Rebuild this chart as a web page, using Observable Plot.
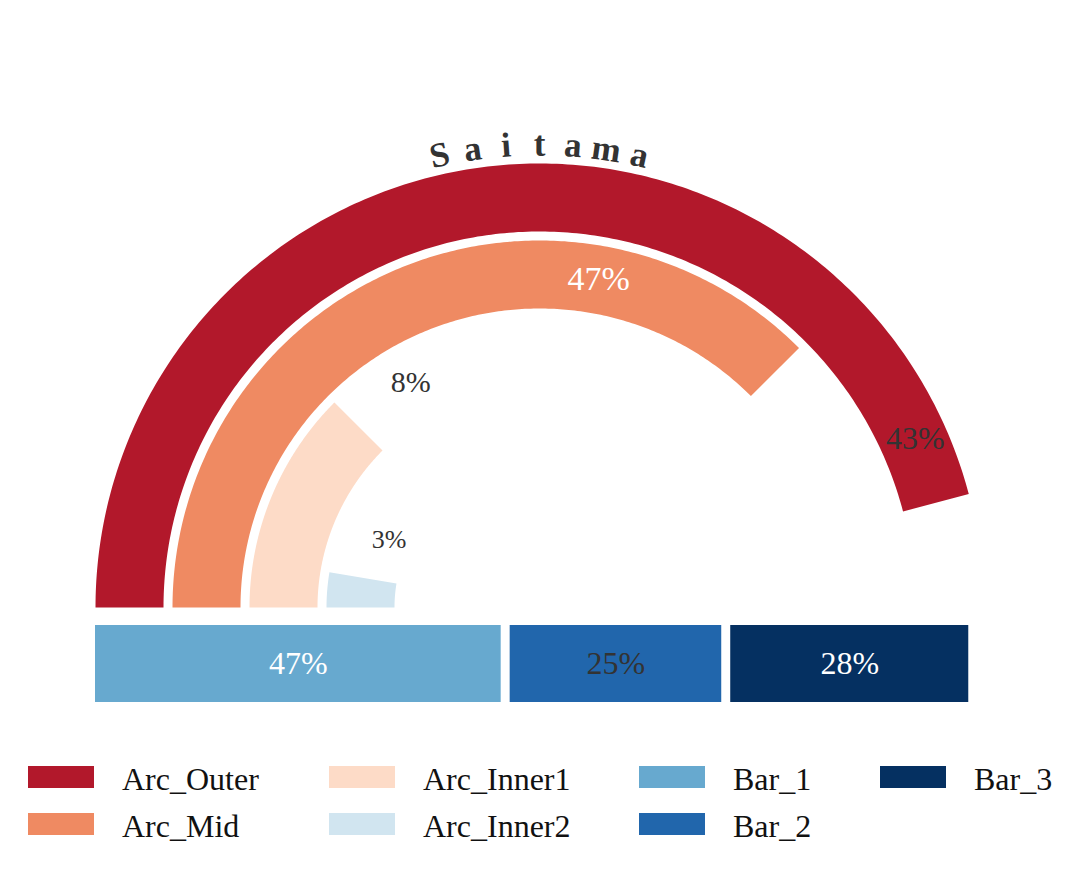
<!DOCTYPE html>
<html><head><meta charset="utf-8">
<script src="https://cdn.jsdelivr.net/npm/d3@7"></script>
<script src="https://cdn.jsdelivr.net/npm/@observablehq/plot@0.6"></script>
<style>
body{margin:0;background:#fff;}
#wrap{position:relative;width:1080px;height:871px;font-family:"Liberation Serif","Times New Roman",serif;}
#legend{position:absolute;left:0;top:740px;width:1080px;height:131px;}
.sw{position:absolute;width:66px;height:22px;}
.lb{position:absolute;font-size:32px;color:#111;line-height:32px;white-space:nowrap;}
</style></head><body>
<div id="wrap"><div id="chart"></div><div id="legend"></div></div>
<script>
// ---------------- data ----------------
const arcNames   = ["Arc_Outer", "Arc_Mid", "Arc_Inner1", "Arc_Inner2"];
const arcSpanDeg = [165.2, 135, 45, 9.5];        // sweep from the left horizontal, clockwise
const arcLabels  = ["43%", "47%", "8%", "3%"];
const barNames   = ["Bar_1", "Bar_2", "Bar_3"];
const barValues  = [47, 25, 28];
const barLabels  = ["47%", "25%", "28%"];
const titleText  = "Saitama";
const arcColors  = ["#b2182b", "#ef8a62", "#fddbc7", "#d1e5f0"];
const barColors  = ["#67a9cf", "#2166ac", "#053061"];

// ---------------- layout ----------------
const W = 1080, H = 740, unit = 444, cx = 539, cy = 607;
const ringW = 68 / unit, ringGap = 9 / unit;
const arcLabelAngle  = [24.2, 79.8, 119.8, 155.7];
const arcLabelRadius = [412 / unit, 334 / unit, 259 / unit, 165 / unit];
const arcLabelSize   = [32, 34, 30, 26];
const arcLabelFill   = ["#333", "white", "#333", "#333"];
const barLabelFill   = ["white", "#333", "white"];
const barTop = -18 / unit, barBottom = -95 / unit, barGapPx = 9;
const titleRadius = 452 / unit, titleStepDeg = 4.15;

const rad = d => d * Math.PI / 180;

// arc polygons
const arcs = arcNames.map((name, i) => {
  const r1 = 1 - i * (ringW + ringGap), r0 = r1 - ringW;
  return {name, r0, r1, start: 180, end: 180 - arcSpanDeg[i]};
});
const arcPts = arcs.flatMap(a => {
  const n = 240;
  const angs = d3.range(n + 1).map(k => a.start + (a.end - a.start) * k / n);
  const outer = angs.map(t => ({name: a.name, x: a.r1 * Math.cos(rad(t)), y: a.r1 * Math.sin(rad(t))}));
  const inner = angs.slice().reverse().map(t => ({name: a.name, x: a.r0 * Math.cos(rad(t)), y: a.r0 * Math.sin(rad(t))}));
  return outer.concat(inner);
});
const arcText = arcs.map((a, i) => ({
  label: arcLabels[i],
  x: arcLabelRadius[i] * Math.cos(rad(arcLabelAngle[i])),
  y: arcLabelRadius[i] * Math.sin(rad(arcLabelAngle[i])),
  size: arcLabelSize[i], fill: arcLabelFill[i]
}));

// bars
const half = barGapPx / 2 / unit;
const barLeft = -1 - half, barRight = Math.cos(rad(arcs[0].end)) + half;
const total = d3.sum(barValues);
const cum = [0, ...d3.cumsum(barValues)];
const bars = barNames.map((name, i) => ({
  name, label: barLabels[i], fill: barLabelFill[i],
  x1: barLeft + (barRight - barLeft) * cum[i] / total,
  x2: barLeft + (barRight - barLeft) * cum[i + 1] / total
}));

// title letters along an arc
const letters = Array.from(titleText).map((ch, k, arr) => {
  const t = 90 + ((arr.length - 1) / 2 - k) * titleStepDeg;
  return {ch, x: titleRadius * Math.cos(rad(t)), y: titleRadius * Math.sin(rad(t)), rot: 90 - t};
});

const allNames = arcNames.concat(barNames);
const allColors = arcColors.concat(barColors);

const chart = Plot.plot({
  width: W, height: H,
  marginLeft: 0, marginRight: 0, marginTop: 0, marginBottom: 0,
  x: {domain: [-cx / unit, (W - cx) / unit], axis: null},
  y: {domain: [-(H - cy) / unit, cy / unit], axis: null},
  color: {domain: allNames, range: allColors},
  style: {fontFamily: "'Liberation Serif','Times New Roman',serif", background: "white"},
  marks: [
    Plot.line(arcPts, {x: "x", y: "y", z: "name", fill: "name", stroke: "none", curve: "linear-closed"}),
    Plot.rect(bars, {x1: "x1", x2: "x2", y1: barBottom, y2: barTop, fill: "name", insetLeft: barGapPx / 2, insetRight: barGapPx / 2}),
    Plot.text(bars, {x: d => (d.x1 + d.x2) / 2, y: (barTop + barBottom) / 2, text: "label", fill: d => d.fill, fontSize: 32, lineAnchor: "middle"}),
    Plot.text(arcText, {x: "x", y: "y", text: "label", fill: d => d.fill, fontSize: d => d.size, lineAnchor: "middle"}),
    Plot.text(letters, {x: "x", y: "y", text: "ch", rotate: "rot", fontSize: 35, fontWeight: "bold", fill: "#333", lineAnchor: "bottom", textAnchor: "middle"})
  ]
});
document.getElementById("chart").appendChild(chart);

// legend (column-major, 4 columns x 2 rows)
const legendCols = [[0, 1], [2, 3], [4, 5], [6]];
const swX = [28, 329, 639, 880], txX = [122, 423, 733, 974], rowY = [777, 824];
const lg = document.getElementById("legend");
legendCols.forEach((col, c) => col.forEach((idx, r) => {
  const sw = document.createElement("div");
  sw.className = "sw";
  sw.style.left = swX[c] + "px";
  sw.style.top = (rowY[r] - 740 - 11) + "px";
  sw.style.background = allColors[idx];
  lg.appendChild(sw);
  const lb = document.createElement("div");
  lb.className = "lb";
  lb.style.left = txX[c] + "px";
  lb.style.top = (rowY[r] - 740 - 14) + "px";
  lb.textContent = allNames[idx];
  lg.appendChild(lb);
}));
</script>
</body></html>
